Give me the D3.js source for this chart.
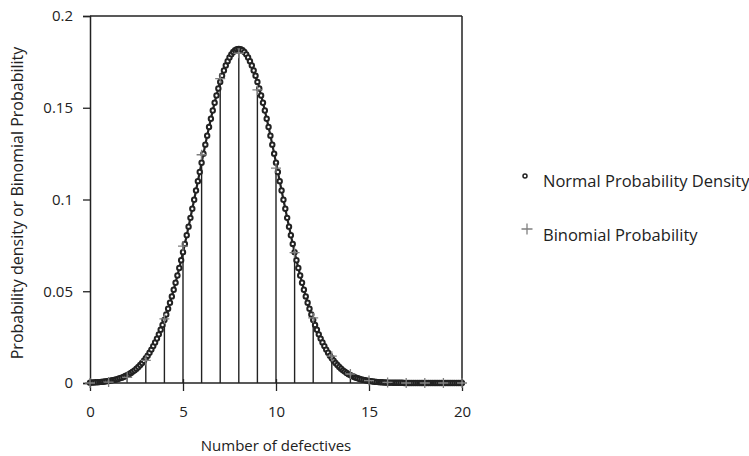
<!DOCTYPE html>
<html><head><meta charset="utf-8">
<script src="https://cdn.jsdelivr.net/npm/d3@7"></script>
<style>body{margin:0;background:#fff}svg{display:block}text{font-family:"Open Sans","Noto Sans",sans-serif;fill:#222}</style>
</head><body>
<svg id="c" width="749" height="456"></svg>
<script>
// Normal density sampled along x (0 to 20, every 0.1)
const normalX = [0,0.1,0.2,0.3,0.4,0.5,0.6,0.7,0.8,0.9,1,1.1,1.2,1.3,1.4,1.5,1.6,1.7,1.8,1.9,2,2.1,2.2,2.3,2.4,2.5,2.6,2.7,2.8,2.9,3,3.1,3.2,3.3,3.4,3.5,3.6,3.7,3.8,3.9,4,4.1,4.2,4.3,4.4,4.5,4.6,4.7,4.8,4.9,5,5.1,5.2,5.3,5.4,5.5,5.6,5.7,5.8,5.9,6,6.1,6.2,6.3,6.4,6.5,6.6,6.7,6.8,6.9,7,7.1,7.2,7.3,7.4,7.5,7.6,7.7,7.8,7.9,8,8.1,8.2,8.3,8.4,8.5,8.6,8.7,8.8,8.9,9,9.1,9.2,9.3,9.4,9.5,9.6,9.7,9.8,9.9,10,10.1,10.2,10.3,10.4,10.5,10.6,10.7,10.8,10.9,11,11.1,11.2,11.3,11.4,11.5,11.6,11.7,11.8,11.9,12,12.1,12.2,12.3,12.4,12.5,12.6,12.7,12.8,12.9,13,13.1,13.2,13.3,13.4,13.5,13.6,13.7,13.8,13.9,14,14.1,14.2,14.3,14.4,14.5,14.6,14.7,14.8,14.9,15,15.1,15.2,15.3,15.4,15.5,15.6,15.7,15.8,15.9,16,16.1,16.2,16.3,16.4,16.5,16.6,16.7,16.8,16.9,17,17.1,17.2,17.3,17.4,17.5,17.6,17.7,17.8,17.9,18,18.1,18.2,18.3,18.4,18.5,18.6,18.7,18.8,18.9,19,19.1,19.2,19.3,19.4,19.5,19.6,19.7,19.8,19.9,20];
const normalY = [0.0002,0.0003,0.0003,0.0004,0.0004,0.0005,0.0006,0.0007,0.0008,0.0010,0.0011,0.0013,0.0015,0.0017,0.0019,0.0022,0.0026,0.0029,0.0033,0.0038,0.0043,0.0048,0.0055,0.0062,0.0069,0.0078,0.0087,0.0098,0.0109,0.0121,0.0135,0.0149,0.0165,0.0182,0.0201,0.0221,0.0242,0.0265,0.0290,0.0316,0.0344,0.0373,0.0405,0.0437,0.0472,0.0508,0.0546,0.0586,0.0627,0.0669,0.0713,0.0758,0.0805,0.0852,0.0900,0.0950,0.0999,0.1049,0.1100,0.1150,0.1200,0.1250,0.1299,0.1348,0.1395,0.1440,0.1485,0.1527,0.1567,0.1605,0.1641,0.1674,0.1703,0.1730,0.1754,0.1774,0.1791,0.1804,0.1813,0.1819,0.1821,
0.1819,0.1813,0.1804,0.1791,0.1774,0.1754,0.1730,0.1703,0.1674,0.1641,0.1605,0.1567,0.1527,0.1485,0.1440,0.1395,0.1348,0.1299,0.1250,0.1200,0.1150,0.1100,0.1049,0.0999,0.0950,0.0900,0.0852,0.0805,0.0758,0.0713,0.0669,0.0627,0.0586,0.0546,0.0508,0.0472,0.0437,0.0405,0.0373,0.0344,0.0316,0.0290,0.0265,0.0242,0.0221,0.0201,0.0182,0.0165,0.0149,0.0135,0.0121,0.0109,0.0098,0.0087,0.0078,0.0069,0.0062,0.0055,0.0048,0.0043,0.0038,0.0033,0.0029,0.0026,0.0022,0.0019,0.0017,0.0015,0.0013,0.0011,0.0010,0.0008,0.0007,0.0006,0.0005,0.0004,0.0004,0.0003,0.0003,0.0002,
0.0002,0.0002,0.0001,0.0001,0.0001,0.0001,0.0001,0.0001,0,0,0,0,0,0,0,0,0,0,0,0,0,0,0,0,0,0,0,0,0,0,0,0,0,0,0,0,0,0,0,0];
// Binomial probabilities (number of defectives 0..20)
const binomX = [0,1,2,3,4,5,6,7,8,9,10,11,12,13,14,15,16,17,18,19,20];
const binomY = [0,0.0005,0.0031,0.0123,0.0350,0.0746,0.1244,0.1659,0.1797,0.1597,0.1171,0.0710,0.0355,0.0146,0.0049,0.0013,0.0003,0,0,0,0];
const xTicks = [0,5,10,15,20];
const yTicks = [0,0.05,0.1,0.15,0.2];
const yTickLabels = ["0","0.05","0.1","0.15","0.2"];
const legendLabels = ["Normal Probability Density","Binomial Probability"];
const xTitle = "Number of defectives";
const yTitle = "Probability density or Binomial Probability";

const svg = d3.select("#c");
const dark = "#222", grey = "#808080";
const x = d3.scaleLinear().domain([0,20]).range([90,462]);
const y = d3.scaleLinear().domain([0,0.2]).range([383,16]);

// frame
svg.append("line").attr("x1",90).attr("x2",462).attr("y1",16).attr("y2",16).attr("stroke",dark).attr("stroke-width",1.5);
svg.append("line").attr("x1",462).attr("x2",462).attr("y1",16).attr("y2",383).attr("stroke",dark).attr("stroke-width",1.5);

// axes
const ya = svg.append("g").attr("transform","translate(90,0)")
  .call(d3.axisLeft(y).tickValues(yTicks).tickSize(7).tickPadding(10).tickFormat((d,i)=>yTickLabels[i]));
ya.select(".domain").attr("stroke",dark).attr("stroke-width",1.5);
ya.selectAll(".tick line").attr("stroke",dark).attr("stroke-width",1.3);
ya.selectAll(".tick text").attr("font-size",15).attr("fill",dark).style("font-family","Open Sans");

const xa = svg.append("g").attr("transform","translate(0,383)")
  .call(d3.axisBottom(x).tickValues(xTicks).tickSize(8).tickPadding(15).tickFormat(d3.format("d")));
xa.select(".domain").attr("stroke",dark).attr("stroke-width",1.5).attr("d","M90,0H462");
xa.selectAll(".tick line").attr("stroke",dark).attr("stroke-width",1.3).attr("y1",(d)=>d===0?0:-4);
xa.selectAll(".tick text").attr("font-size",15).attr("fill",dark).style("font-family","Open Sans");

// binomial vertical lines
svg.append("g").selectAll("line").data(binomX).join("line")
  .attr("x1",(d)=>x(d)).attr("x2",(d)=>x(d))
  .attr("y1",y(0)).attr("y2",(d,i)=>y(binomY[i]))
  .attr("stroke",dark).attr("stroke-width",1.4);

// normal curve
const pts = normalX.map((d,i)=>[d,normalY[i]]);
svg.append("path").datum(pts)
  .attr("d",d3.line().x(d=>x(d[0])).y(d=>y(d[1])))
  .attr("fill","none").attr("stroke",dark).attr("stroke-width",2.2);
svg.append("g").selectAll("circle").data(pts).join("circle")
  .attr("cx",d=>x(d[0])).attr("cy",d=>y(d[1])).attr("r",2.2)
  .attr("fill","#fff").attr("stroke",dark).attr("stroke-width",2);

// binomial plus markers
const plus = (g,cx,cy,s)=>g.append("path").attr("d",`M${cx-s},${cy}H${cx+s}M${cx},${cy-s}V${cy+s}`)
  .attr("stroke",grey).attr("stroke-width",1.3).attr("fill","none");
const pg = svg.append("g");
binomX.forEach((d,i)=>plus(pg,x(d),y(binomY[i]),5));

// legend
svg.append("circle").attr("cx",525).attr("cy",176).attr("r",2).attr("fill","#fff").attr("stroke",dark).attr("stroke-width",1.5);
svg.append("text").attr("x",543).attr("y",187).attr("font-size",16.5).text(legendLabels[0]);
plus(svg,527,229,5.5);
svg.append("text").attr("x",543).attr("y",241).attr("font-size",16.5).text(legendLabels[1]);

// titles
svg.append("text").attr("x",276).attr("y",451).attr("text-anchor","middle").attr("font-size",15).text(xTitle);
svg.append("text").attr("transform","translate(23,203) rotate(-90)").attr("text-anchor","middle").attr("font-size",16).text(yTitle);
</script>
</body></html>
